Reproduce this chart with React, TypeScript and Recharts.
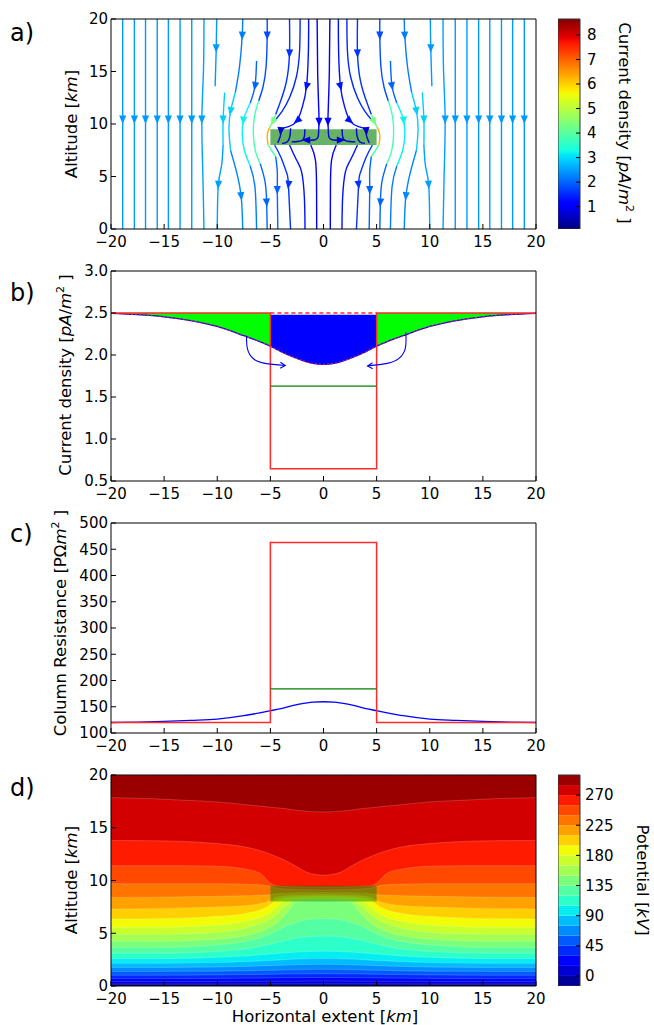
import React from 'react';
import { ComposedChart, Line, Area, XAxis, YAxis, Scatter, ReferenceArea } from 'recharts';

const FONT = "'DejaVu Sans', Verdana, sans-serif";

// ---------------- shared ticks ----------------
const xTicks = [-20, -15, -10, -5, 0, 5, 10, 15, 20];
const altTicks = [0, 5, 10, 15, 20];
const jTicks = [0.5, 1.0, 1.5, 2.0, 2.5, 3.0];
const rTicks = [100, 150, 200, 250, 300, 350, 400, 450, 500];

// ---------------- panel a: streamlines ----------------
const jCbTicks = [1, 2, 3, 4, 5, 6, 7, 8];
const jCbRange = [0.09, 8.65];
const cloudX = [-5, 5];
const cloudY = [8, 9.5];

const outerLineX = [-18.9, -17.8, -16.75, -15.65, -14.6, -13.5, -12.4];
const outerLineValue = 2.45;

// left half streamline segments: v = current density (pA/m^2), pts = [x, altitude]
const streamSegsLeft = [
  { v: 2.5, pts: [[-11.25, 20], [-11.3, 15], [-11.45, 10.4], [-11.35, 5], [-11.25, 0]] },
  { v: 2.45, pts: [[-10.05, 20], [-10.1, 17], [-10.2, 13.6]] },
  { v: 2.9, pts: [[-9.3, 13], [-9.45, 10.4], [-9.45, 8]] },
  { v: 2.5, pts: [[-9.45, 8], [-9.6, 6], [-9.9, 4.2], [-10.0, 0]] },
  { v: 2.2, pts: [[-7.6, 20], [-7.65, 18.4], [-7.9, 15.5], [-8.3, 13]] },
  { v: 2.9, pts: [[-8.3, 13], [-8.75, 11.2], [-8.9, 9.5], [-8.75, 7.5]] },
  { v: 2.3, pts: [[-8.75, 7.5], [-8.2, 5.5], [-7.75, 3.1], [-7.6, 0]] },
  { v: 2.0, pts: [[-6.3, 16], [-6.45, 13.6], [-6.9, 12]] },
  { v: 3.2, pts: [[-6.9, 12], [-7.5, 10.5], [-7.65, 9], [-7.45, 7.5], [-6.9, 6]] },
  { v: 2.2, pts: [[-6.9, 6], [-6.45, 4], [-6.3, 0]] },
  { v: 1.8, pts: [[-5.3, 20], [-5.3, 18.4], [-5.4, 15.5], [-5.7, 13.5], [-6.1, 12.2]] },
  { v: 3.8, pts: [[-6.1, 12.2], [-6.5, 10.7], [-6.6, 9], [-6.4, 7.4], [-5.95, 6.2]] },
  { v: 2.0, pts: [[-5.95, 6.2], [-5.5, 4.5], [-5.35, 2.5], [-5.3, 0]] },
  { v: 1.6, pts: [[-3.2, 20], [-3.2, 16.7], [-3.5, 14], [-4.1, 12], [-4.5, 10.9]] },
  { v: 4.3, pts: [[-4.5, 10.9], [-4.78, 10.2], [-5.05, 9.7]] },
  { v: 6.3, pts: [[-5.05, 9.7], [-5.25, 9.2], [-5.3, 8.6], [-5.2, 8.0]] },
  { v: 3.8, pts: [[-5.2, 8.0], [-4.9, 7.5], [-4.5, 6.9]] },
  { v: 2.0, pts: [[-4.5, 6.9], [-4.35, 5.5], [-4.35, 3.7], [-4.3, 0]] },
  { v: 1.5, pts: [[-2.2, 20], [-2.25, 17], [-2.55, 14.5], [-3.2, 12.5], [-3.9, 11.2], [-4.6, 10.3]] },
  { v: 1.3, pts: [[-1.4, 20], [-1.42, 17], [-1.6, 13.55], [-2.0, 11.6], [-2.5, 10.3], [-3.3, 9.75], [-4.0, 9.55]] },
  { v: 1.0, pts: [[-0.6, 20], [-0.55, 15], [-0.45, 11.5], [-0.42, 10.2], [-0.45, 9.5]] },
  { v: 0.7, pts: [[-0.45, 9.5], [-0.5, 8.8], [-0.8, 8.5], [-1.65, 8.45]] },
  { v: 0.7, pts: [[-1.75, 9.5], [-1.8, 8.8], [-2.1, 8.4], [-3.0, 8.3]] },
  { v: 0.7, pts: [[-3.1, 9.6], [-3.15, 8.9], [-3.4, 8.3], [-3.9, 8.15]] },
  { v: 0.7, pts: [[-4.0, 9.55], [-4.05, 8.9], [-4.3, 8.2]] },
  { v: 1.6, pts: [[-4.6, 8.0], [-4.0, 6.8], [-3.45, 5.3], [-3.3, 4.2], [-3.1, 0]] },
  { v: 1.3, pts: [[-3.2, 8.0], [-2.5, 6.5], [-2.05, 5.4], [-1.8, 3], [-1.74, 0]] },
  { v: 1.1, pts: [[-1.2, 8.0], [-0.75, 6.5], [-0.65, 3.5], [-0.64, 0]] },
];

// arrows on the left half: dir = screen angle in degrees (90 = pointing down)
const streamArrowsLeft = [
  { x: -18.9, y: 10.4, dir: 90, v: 2.45 },
  { x: -17.8, y: 10.4, dir: 90, v: 2.45 },
  { x: -16.75, y: 10.4, dir: 90, v: 2.45 },
  { x: -15.65, y: 10.4, dir: 90, v: 2.45 },
  { x: -14.6, y: 10.4, dir: 90, v: 2.45 },
  { x: -13.5, y: 10.4, dir: 90, v: 2.45 },
  { x: -12.4, y: 10.4, dir: 90, v: 2.45 },
  { x: -11.45, y: 10.4, dir: 90, v: 2.5 },
  { x: -10.1, y: 17.2, dir: 90, v: 2.45 },
  { x: -9.45, y: 10.4, dir: 90, v: 2.9 },
  { x: -9.9, y: 4.2, dir: 94, v: 2.5 },
  { x: -7.65, y: 18.4, dir: 92, v: 2.2 },
  { x: -8.75, y: 11.2, dir: 100, v: 2.9 },
  { x: -7.75, y: 3.1, dir: 84, v: 2.3 },
  { x: -6.45, y: 13.6, dir: 100, v: 2.0 },
  { x: -7.55, y: 10.3, dir: 95, v: 3.2 },
  { x: -5.3, y: 18.4, dir: 90, v: 1.8 },
  { x: -5.35, y: 2.5, dir: 86, v: 2.0 },
  { x: -3.2, y: 16.7, dir: 92, v: 1.6 },
  { x: -4.78, y: 10.2, dir: 118, v: 4.3 },
  { x: -4.35, y: 3.7, dir: 90, v: 2.0 },
  { x: -1.6, y: 13.55, dir: 105, v: 1.3 },
  { x: -2.5, y: 10.3, dir: 140, v: 1.3 },
  { x: -0.42, y: 10.2, dir: 90, v: 1.0 },
  { x: -3.3, y: 4.2, dir: 98, v: 1.6 },
  { x: -1.65, y: 8.47, dir: 180, v: 0.7 },
  { x: -4.03, y: 9.3, dir: 95, v: 0.7 },
];

// ---------------- panel b: current density ----------------
const curveHalfX = [0, 1, 2.5, 4, 5, 6, 7.5, 10, 12.5, 15, 17.5, 20];
const jCurveHalf = [1.89, 1.9, 1.96, 2.04, 2.105, 2.16, 2.23, 2.34, 2.41, 2.455, 2.48, 2.495];
const jOutside = 2.5;
const jInside = 0.645;
const jGreenLevel = 1.63;
const jArrowLeft = [[-7.25, 2.23], [-7.15, 2.07], [-6.6, 1.955], [-5.5, 1.9], [-3.6, 1.875]];
const jArrowRight = [[7.75, 2.27], [7.7, 2.08], [7.1, 1.96], [6.0, 1.9], [4.15, 1.87]];

// ---------------- panel c: column resistance ----------------
const rCurveHalf = [159.5, 159, 154, 146.5, 142.5, 138.5, 133, 126.5, 124, 122, 120.8, 120];
const rOutside = 120;
const rInside = 463;
const rGreenLevel = 184;

// ---------------- panel d: potential contours ----------------
const potHalfX = [0, 1.5, 2.5, 3.5, 4.5, 5, 6, 7.5, 10, 13, 16, 20];
const potLevels = [0, 15, 30, 45, 60, 75, 90, 105, 120, 135, 150, 165, 180, 195, 210, 225, 240, 255, 270, 285];
const potContourHalf = [
  [0.2, 0.2, 0.2, 0.2, 0.2, 0.19, 0.19, 0.19, 0.18, 0.18, 0.18, 0.18],
  [0.47, 0.47, 0.46, 0.46, 0.45, 0.45, 0.44, 0.44, 0.43, 0.42, 0.42, 0.42],
  [0.8, 0.8, 0.79, 0.78, 0.77, 0.76, 0.75, 0.74, 0.72, 0.71, 0.7, 0.7],
  [1.17, 1.16, 1.15, 1.14, 1.12, 1.11, 1.1, 1.08, 1.05, 1.03, 1.02, 1.02],
  [1.58, 1.57, 1.55, 1.53, 1.5, 1.49, 1.47, 1.44, 1.41, 1.39, 1.38, 1.38],
  [2.05, 2.04, 2.01, 1.98, 1.95, 1.93, 1.9, 1.85, 1.8, 1.77, 1.75, 1.75],
  [2.6, 2.58, 2.55, 2.5, 2.45, 2.42, 2.37, 2.3, 2.22, 2.17, 2.15, 2.15],
  [3.3, 3.27, 3.22, 3.15, 3.07, 3.03, 2.95, 2.85, 2.72, 2.64, 2.6, 2.6],
  [4.74, 4.68, 4.55, 4.35, 4.1, 3.97, 3.75, 3.5, 3.28, 3.15, 3.1, 3.1],
  [6.4, 6.3, 6.05, 5.7, 5.2, 4.95, 4.55, 4.2, 3.9, 3.72, 3.66, 3.65],
  [8.05, 8.03, 7.95, 6.9, 5.9, 5.6, 5.15, 4.75, 4.45, 4.3, 4.25, 4.25],
  [8.2, 8.18, 8.14, 7.65, 6.7, 6.35, 5.9, 5.45, 5.1, 4.95, 4.9, 4.9],
  [8.35, 8.33, 8.3, 8.2, 7.4, 7.0, 6.5, 6.1, 5.8, 5.62, 5.56, 5.55],
  [8.5, 8.48, 8.45, 8.38, 8.12, 7.7, 7.2, 6.85, 6.6, 6.45, 6.38, 6.35],
  [8.65, 8.63, 8.6, 8.55, 8.4, 8.08, 7.8, 7.6, 7.48, 7.4, 7.33, 7.3],
  [8.85, 8.85, 8.83, 8.8, 8.75, 8.65, 8.6, 8.55, 8.5, 8.45, 8.42, 8.4],
  [9.1, 9.12, 9.15, 9.2, 9.3, 9.45, 9.6, 9.65, 9.7, 9.7, 9.7, 9.7],
  [9.35, 9.37, 9.4, 9.43, 9.5, 9.75, 10.7, 11.1, 11.35, 11.4, 11.4, 11.4],
  [10.5, 10.75, 11.3, 11.85, 12.3, 12.5, 12.85, 13.2, 13.5, 13.7, 13.77, 13.8],
  [16.5, 16.55, 16.65, 16.8, 16.9, 16.95, 17.05, 17.2, 17.45, 17.6, 17.75, 17.85],
];
const potCbEdges = [-15, 0, 15, 30, 45, 60, 75, 90, 105, 120, 135, 150, 165, 180, 195, 210, 225, 240, 255, 270, 285, 300];
const potCbTicks = [0, 45, 90, 135, 180, 225, 270];

// ---------------- helpers ----------------
function jet(t) {
  const tt = Math.max(0, Math.min(1, t));
  const interp = (pts) => {
    for (let i = 1; i < pts.length; i++) {
      if (tt <= pts[i][0]) {
        const [x0, y0] = pts[i - 1];
        const [x1, y1] = pts[i];
        return y0 + ((y1 - y0) * (tt - x0)) / (x1 - x0);
      }
    }
    return pts[pts.length - 1][1];
  };
  const r = interp([[0, 0], [0.35, 0], [0.66, 1], [0.89, 1], [1, 0.5]]);
  const g = interp([[0, 0], [0.125, 0], [0.375, 1], [0.64, 1], [0.91, 0], [1, 0]]);
  const b = interp([[0, 0.5], [0.11, 1], [0.34, 1], [0.65, 0], [1, 0]]);
  return `rgb(${Math.round(r * 255)},${Math.round(g * 255)},${Math.round(b * 255)})`;
}
const jColor = (v) => jet((v - jCbRange[0]) / (jCbRange[1] - jCbRange[0]));
const bandColor = (i) => jet((i + 0.5) / (potCbEdges.length - 1));
const jetStops = [0, 0.11, 0.125, 0.34, 0.35, 0.375, 0.64, 0.65, 0.66, 0.89, 0.91, 1];

const mirrorFull = (halfX, halfY) => {
  const xs = [...halfX.slice(1).map((x) => -x).reverse(), ...halfX];
  const ys = [...halfY.slice(1).reverse(), ...halfY];
  return xs.map((x, i) => ({ x, y: ys[i] }));
};

// streamlines: left half + mirrored right half
const streamSegs = [
  ...outerLineX.map((x) => ({ v: outerLineValue, pts: [[x, 20], [x, 0]] })),
  ...streamSegsLeft,
];
const allStreamSegs = [
  ...streamSegs,
  ...streamSegs.map((s) => ({ v: s.v, pts: s.pts.map(([x, y]) => [-x, y]) })),
];
const allStreamArrows = [
  ...streamArrowsLeft,
  ...streamArrowsLeft.map((a) => ({ ...a, x: -a.x, dir: 180 - a.dir })),
];

// panel b rows
const jCurve = mirrorFull(curveHalfX, jCurveHalf);
const jRows = jCurve.map((p) => ({
  x: p.x,
  j: p.y,
  green: Math.abs(p.x) >= 5 ? [p.y, jOutside] : null,
  blue: Math.abs(p.x) <= 5 ? [p.y, jOutside - 0.02] : null,
}));
const jStep = [
  { x: -20, y: jOutside }, { x: -5, y: jOutside }, { x: -5, y: jInside },
  { x: 5, y: jInside }, { x: 5, y: jOutside }, { x: 20, y: jOutside },
];
const jTopDash = [{ x: -5, y: jOutside }, { x: 5, y: jOutside }];
const jGreen = [{ x: -5, y: jGreenLevel }, { x: 5, y: jGreenLevel }];
const jArrL = jArrowLeft.map(([x, y]) => ({ x, y }));
const jArrR = jArrowRight.map(([x, y]) => ({ x, y }));
const jHeads = [
  { x: jArrowLeft[jArrowLeft.length - 1][0], y: jArrowLeft[jArrowLeft.length - 1][1], dir: 2 },
  { x: jArrowRight[jArrowRight.length - 1][0], y: jArrowRight[jArrowRight.length - 1][1], dir: 178 },
];

// panel c rows
const rCurve = mirrorFull(curveHalfX, rCurveHalf);
const rStep = [
  { x: -20, y: rOutside }, { x: -5, y: rOutside }, { x: -5, y: rInside },
  { x: 5, y: rInside }, { x: 5, y: rOutside }, { x: 20, y: rOutside },
];
const rGreen = [{ x: -5, y: rGreenLevel }, { x: 5, y: rGreenLevel }];

// panel d rows
const potFullX = [...potHalfX.slice(1).map((x) => -x).reverse(), ...potHalfX];
const potRows = potFullX.map((x, idx) => {
  const hi = idx < potHalfX.length - 1 ? potHalfX.length - 1 - idx : idx - (potHalfX.length - 1);
  const row = { x, base: [0, 20] };
  potContourHalf.forEach((arr, k) => {
    row['k' + k] = [arr[hi], 20];
  });
  return row;
});

// ---------------- styling ----------------
const tickStyle = { fill: '#000', fontSize: 15, fontFamily: FONT };
const minusFmt = (v) => (v < 0 ? '\u2212' + Math.abs(v) : String(v));
const oneDec = (v) => v.toFixed(1);
const PLOT_LEFT = 111;
const CHART_W = 546;
const LABEL_FS = 16.5;

function frameAxes(yDomain, yTicks, yFmt) {
  return [
    <XAxis key="xb" xAxisId="b" type="number" dataKey="x" domain={[-20, 20]} allowDataOverflow
      ticks={xTicks} interval={0} tickFormatter={minusFmt} tick={tickStyle} tickSize={-5} tickMargin={12}
      tickLine={{ stroke: '#000' }} axisLine={{ stroke: '#000' }} height={30} />,
    <XAxis key="xt" xAxisId="t" orientation="top" type="number" dataKey="x" domain={[-20, 20]} allowDataOverflow
      ticks={xTicks} interval={0} tick={false} tickSize={-5}
      tickLine={{ stroke: '#000' }} axisLine={{ stroke: '#000' }} height={5} />,
    <YAxis key="yl" yAxisId="l" type="number" domain={yDomain} allowDataOverflow ticks={yTicks} interval={0}
      tickFormatter={yFmt} tick={tickStyle} tickSize={-5} tickMargin={8} width={PLOT_LEFT}
      tickLine={{ stroke: '#000' }} axisLine={{ stroke: '#000' }} />,
    <YAxis key="yr" yAxisId="r" orientation="right" type="number" domain={yDomain} allowDataOverflow ticks={yTicks}
      interval={0} tick={false} tickSize={-5} width={10}
      tickLine={{ stroke: '#000' }} axisLine={{ stroke: '#000' }} />,
  ];
}

const StreamArrow = (props) => {
  const { cx, cy } = props;
  const p = props.payload || props;
  if (cx == null || cy == null) return null;
  const a = (p.dir * Math.PI) / 180;
  const L = 8.5;
  const W = 3.6;
  const ux = Math.cos(a);
  const uy = Math.sin(a);
  const tip = [cx + ux * L * 0.5, cy + uy * L * 0.5];
  const bx = cx - ux * L * 0.5;
  const by = cy - uy * L * 0.5;
  const pts = [tip, [bx - uy * W, by + ux * W], [bx + uy * W, by - ux * W]];
  return <polygon points={pts.map((q) => q.join(',')).join(' ')} fill={jColor(p.v)} />;
};

const OpenHead = (props) => {
  const { cx, cy } = props;
  const p = props.payload || props;
  if (cx == null || cy == null) return null;
  const a = (p.dir * Math.PI) / 180;
  const ux = Math.cos(a);
  const uy = Math.sin(a);
  const L = 5;
  const W = 3;
  const bx = cx - ux * L;
  const by = cy - uy * L;
  const d = `M${bx - uy * W},${by + ux * W} L${cx},${cy} L${bx + uy * W},${by - ux * W}`;
  return <path d={d} fill="none" stroke="#0000ff" strokeWidth={1.1} />;
};

const ax = { xAxisId: 'b', yAxisId: 'l' };

function PanelA() {
  return (
    <ComposedChart width={CHART_W} height={250} margin={{ top: 5, right: 0, bottom: 0, left: 0 }}>
      {frameAxes([0, 20], altTicks, minusFmt)}
      {allStreamSegs.map((s, i) => (
        <Line key={'s' + i} {...ax} data={s.pts.map(([x, y]) => ({ x, y }))} dataKey="y" type="natural"
          stroke={jColor(s.v)} strokeWidth={1.4} dot={false} activeDot={false} isAnimationActive={false} />
      ))}
      <Scatter {...ax} data={allStreamArrows} dataKey="y" shape={StreamArrow} isAnimationActive={false} />
      <ReferenceArea {...ax} x1={cloudX[0]} x2={cloudX[1]} y1={cloudY[0]} y2={cloudY[1]} fill="#008000"
        fillOpacity={0.6} stroke="none" />
    </ComposedChart>
  );
}

function PanelB() {
  return (
    <ComposedChart width={CHART_W} height={250} margin={{ top: 5, right: 0, bottom: 0, left: 0 }} data={jRows}>
      {frameAxes([0.5, 3.0], jTicks, oneDec)}
      <Area {...ax} dataKey="green" type="monotone" fill="#00ff00" fillOpacity={1} stroke="none" isAnimationActive={false} />
      <Area {...ax} dataKey="blue" type="monotone" fill="#0000ff" fillOpacity={1} stroke="none" isAnimationActive={false} />
      <Line {...ax} dataKey="j" type="monotone" stroke="#0000ff" strokeWidth={1.3} dot={false} activeDot={false} isAnimationActive={false} />
      <Line {...ax} dataKey="j" type="monotone" stroke="#ff2020" strokeWidth={1} strokeDasharray="2 2" dot={false} activeDot={false} isAnimationActive={false} />
      <Line {...ax} data={jStep} dataKey="y" type="linear" stroke="#ff2a2a" strokeWidth={1.5} dot={false} activeDot={false} isAnimationActive={false} />
      <Line {...ax} data={jTopDash} dataKey="y" type="linear" stroke="#ff2a2a" strokeWidth={1.3} strokeDasharray="4 3" dot={false} activeDot={false} isAnimationActive={false} />
      <Line {...ax} data={jGreen} dataKey="y" type="linear" stroke="#008000" strokeWidth={1.2} dot={false} activeDot={false} isAnimationActive={false} />
      <Line {...ax} data={jArrL} dataKey="y" type="natural" stroke="#0000ff" strokeWidth={1.1} dot={false} activeDot={false} isAnimationActive={false} />
      <Line {...ax} data={jArrR} dataKey="y" type="natural" stroke="#0000ff" strokeWidth={1.1} dot={false} activeDot={false} isAnimationActive={false} />
      <Scatter {...ax} data={jHeads} dataKey="y" shape={OpenHead} isAnimationActive={false} />
    </ComposedChart>
  );
}

function PanelC() {
  return (
    <ComposedChart width={CHART_W} height={250} margin={{ top: 5, right: 0, bottom: 0, left: 0 }} data={rCurve}>
      {frameAxes([100, 500], rTicks, String)}
      <Line {...ax} dataKey="y" type="monotone" stroke="#0000ff" strokeWidth={1.3} dot={false} activeDot={false} isAnimationActive={false} />
      <Line {...ax} data={rStep} dataKey="y" type="linear" stroke="#ff2a2a" strokeWidth={1.5} dot={false} activeDot={false} isAnimationActive={false} />
      <Line {...ax} data={rGreen} dataKey="y" type="linear" stroke="#008000" strokeWidth={1.2} dot={false} activeDot={false} isAnimationActive={false} />
    </ComposedChart>
  );
}

function PanelD() {
  return (
    <ComposedChart width={CHART_W} height={251} margin={{ top: 5, right: 0, bottom: 0, left: 0 }} data={potRows}>
      {frameAxes([0, 20], altTicks, minusFmt)}
      <Area {...ax} dataKey="base" type="linear" fill={bandColor(0)} fillOpacity={1} stroke="none" isAnimationActive={false} />
      {potLevels.map((lv, k) => (
        <Area key={'p' + lv} {...ax} dataKey={'k' + k} type="monotone" fill={bandColor(k + 1)} fillOpacity={1}
          stroke="rgba(255,255,255,0.3)" strokeWidth={0.6} isAnimationActive={false} />
      ))}
      <ReferenceArea {...ax} x1={cloudX[0]} x2={cloudX[1]} y1={cloudY[0]} y2={cloudY[1]} fill="#008000"
        fillOpacity={0.45} stroke="none" />
    </ComposedChart>
  );
}

function ColorbarA() {
  return (
    <ComposedChart width={72} height={220} margin={{ top: 10, right: 0, bottom: 0, left: 0 }} data={[{ x: 0 }, { x: 1 }]}>
      <defs>
        <linearGradient id="jetGrad" x1="0" y1="1" x2="0" y2="0">
          {jetStops.map((t) => (
            <stop key={t} offset={t} stopColor={jet(t)} />
          ))}
        </linearGradient>
      </defs>
      <XAxis xAxisId="c" type="number" dataKey="x" domain={[0, 1]} hide />
      <YAxis yAxisId="c" orientation="right" type="number" domain={jCbRange} allowDataOverflow ticks={jCbTicks}
        interval={0} tick={tickStyle} tickSize={-4} tickMargin={11} width={50} axisLine={false}
        tickLine={{ stroke: '#000' }} />
      <ReferenceArea xAxisId="c" yAxisId="c" y1={jCbRange[0]} y2={jCbRange[1]} fill="url(#jetGrad)" fillOpacity={1}
        stroke="#333" strokeWidth={1} />
    </ComposedChart>
  );
}

function ColorbarD() {
  return (
    <ComposedChart width={72} height={221} margin={{ top: 10, right: 0, bottom: 0, left: 0 }} data={[{ x: 0 }, { x: 1 }]}>
      <XAxis xAxisId="c" type="number" dataKey="x" domain={[0, 1]} hide />
      <YAxis yAxisId="c" orientation="right" type="number" domain={[potCbEdges[0], potCbEdges[potCbEdges.length - 1]]}
        allowDataOverflow ticks={potCbTicks} interval={0} tick={tickStyle} tickSize={-4} tickMargin={9} width={50}
        axisLine={false} tickLine={{ stroke: '#000' }} />
      {potCbEdges.slice(0, -1).map((lo, i) => (
        <ReferenceArea key={'cb' + i} xAxisId="c" yAxisId="c" y1={lo} y2={potCbEdges[i + 1]} fill={bandColor(i)}
          fillOpacity={1} stroke="none" />
      ))}
      <ReferenceArea xAxisId="c" yAxisId="c" y1={potCbEdges[0]} y2={potCbEdges[potCbEdges.length - 1]} fill="none"
        fillOpacity={0} stroke="#333" strokeWidth={1} />
    </ComposedChart>
  );
}

const it = { fontStyle: 'italic' };

function Labels() {
  return (
    <svg width={654} height={1025} style={{ position: 'absolute', left: 0, top: 0, pointerEvents: 'none' }}
      fontFamily={FONT} fill="#000">
      <text x={10} y={41} fontSize={24}>a)</text>
      <text x={10} y={301} fontSize={24}>b)</text>
      <text x={10} y={542} fontSize={24}>c)</text>
      <text x={10} y={796} fontSize={24}>d)</text>

      <text transform="rotate(-90 77 124)" x={77} y={124} textAnchor="middle" fontSize={LABEL_FS}>
        Altitude [<tspan style={it}>km</tspan>]
      </text>
      <text transform="rotate(-90 71 375)" x={71} y={375} textAnchor="middle" fontSize={LABEL_FS}>
        Current density [<tspan style={it}>pA</tspan>/<tspan style={it}>m</tspan>
        <tspan dy={-7} fontSize={11}>2</tspan><tspan dy={7}> ]</tspan>
      </text>
      <text transform="rotate(-90 66 623)" x={66} y={623} textAnchor="middle" fontSize={LABEL_FS}>
        Column Resistance [PΩ<tspan style={it}>m</tspan><tspan dy={-7} fontSize={11}>2</tspan><tspan dy={7}> ]</tspan>
      </text>
      <text transform="rotate(-90 77 880)" x={77} y={880} textAnchor="middle" fontSize={LABEL_FS}>
        Altitude [<tspan style={it}>km</tspan>]
      </text>
      <text x={325} y={1022} textAnchor="middle" fontSize={LABEL_FS}>
        Horizontal extent [<tspan style={it}>km</tspan>]
      </text>

      <text transform="rotate(90 619 123)" x={619} y={123} textAnchor="middle" fontSize={LABEL_FS}>
        Current density [<tspan style={it}>pA</tspan>/<tspan style={it}>m</tspan>
        <tspan dy={-7} fontSize={11}>2</tspan><tspan dy={7}> ]</tspan>
      </text>
      <text transform="rotate(90 637 880)" x={637} y={880} textAnchor="middle" fontSize={LABEL_FS}>
        Potential [<tspan style={it}>kV</tspan>]
      </text>
    </svg>
  );
}

export default function App() {
  return (
    <div style={{ position: 'absolute', left: 0, top: 0, width: 654, height: 1025, background: '#fff', overflow: 'hidden' }}>
      <div style={{ position: 'absolute', left: 0, top: 9 }}><PanelA /></div>
      <div style={{ position: 'absolute', left: 558, top: 9 }}><ColorbarA /></div>
      <div style={{ position: 'absolute', left: 0, top: 261 }}><PanelB /></div>
      <div style={{ position: 'absolute', left: 0, top: 513 }}><PanelC /></div>
      <div style={{ position: 'absolute', left: 0, top: 765 }}><PanelD /></div>
      <div style={{ position: 'absolute', left: 558, top: 765 }}><ColorbarD /></div>
      <Labels />
    </div>
  );
}
